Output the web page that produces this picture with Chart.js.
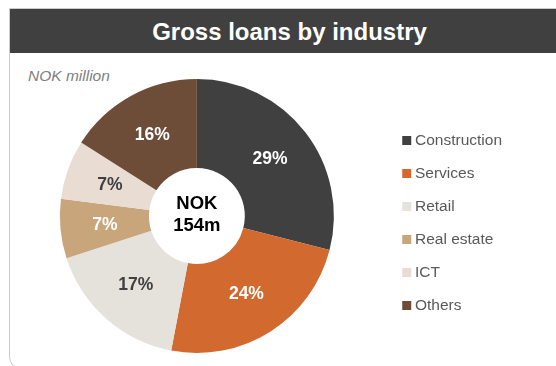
<!DOCTYPE html>
<html>
<head>
<meta charset="utf-8">
<script src="https://cdn.jsdelivr.net/npm/chart.js@4.4.1/dist/chart.umd.min.js"></script>
<style>
    body { margin: 0; width: 556px; height: 366px; overflow: hidden; background: #fff; font-family: "Liberation Sans", Arial, sans-serif; }
    .frame { position: absolute; left: 9px; top: 7.5px; width: 559px; height: 359px; border: 1.5px solid #cbcbcb; border-radius: 0 0 0 12px; }
    .title-bar { height: 44px; background: #404040; color: #fff; font-weight: bold; font-size: 24px; text-align: center; line-height: 46px; }
    .unit { position: absolute; left: 28px; top: 67px; font-style: italic; font-size: 15.5px; color: #7f7f7f; }
    #loansChart { position: absolute; left: 0; top: 0; }
</style>
</head>
<body>
<div class="frame"><div class="title-bar">Gross loans by industry</div></div>
<div class="unit">NOK million</div>
<canvas id="loansChart" width="556" height="366"></canvas>
<script>
    // Share of gross loans per industry, in percent
    const industries = ['Construction', 'Services', 'Retail', 'Real estate', 'ICT', 'Others'];
    const shares = [29, 24, 17, 7, 7, 16];
    const sliceColors = ['#404040', '#d2692f', '#e4e2db', '#c9a57b', '#e8dcd3', '#6d4c38'];
    const labelColors = ['#ffffff', '#ffffff', '#404040', '#ffffff', '#404040', '#ffffff'];
    const totalLines = ['NOK', '154m'];

    // Percent labels inside each slice plus the total in the hole
    const sliceLabels = {
        id: 'sliceLabels',
        afterDatasetsDraw(chart) {
            const ctx = chart.ctx;
            const meta = chart.getDatasetMeta(0);
            ctx.save();
            ctx.textAlign = 'center';
            ctx.textBaseline = 'middle';
            ctx.font = 'bold 17.5px "Liberation Sans", Arial, sans-serif';
            meta.data.forEach((arc, i) => {
                const pos = arc.tooltipPosition();
                ctx.fillStyle = labelColors[i];
                ctx.fillText(shares[i] + '%', pos.x, pos.y);
            });
            const center = meta.data[0];
            ctx.fillStyle = '#000';
            ctx.font = 'bold 18.5px "Liberation Sans", Arial, sans-serif';
            ctx.fillText(totalLines[0], center.x, center.y - 12);
            ctx.fillText(totalLines[1], center.x, center.y + 10);
            ctx.restore();
        }
    };

    new Chart(document.getElementById('loansChart'), {
        type: 'doughnut',
        data: {
            labels: industries,
            datasets: [{
                data: shares,
                backgroundColor: sliceColors,
                borderWidth: 0
            }]
        },
        options: {
            responsive: false,
            animation: false,
            cutout: '35%',
            layout: { padding: { top: 79, bottom: 13, left: 5, right: 44 } },
            plugins: {
                tooltip: { enabled: false },
                legend: {
                    position: 'right',
                    title: { display: true, text: '', font: { size: 10 }, padding: { top: 2 } },
                    labels: {
                        usePointStyle: true,
                        pointStyle: 'rect',
                        boxWidth: 1,
                        boxHeight: 9,
                        padding: 17.5,
                        color: '#595959',
                        font: { family: '"Liberation Sans", Arial, sans-serif', size: 15.5 }
                    }
                }
            }
        },
        plugins: [sliceLabels]
    });
</script>
</body>
</html>
